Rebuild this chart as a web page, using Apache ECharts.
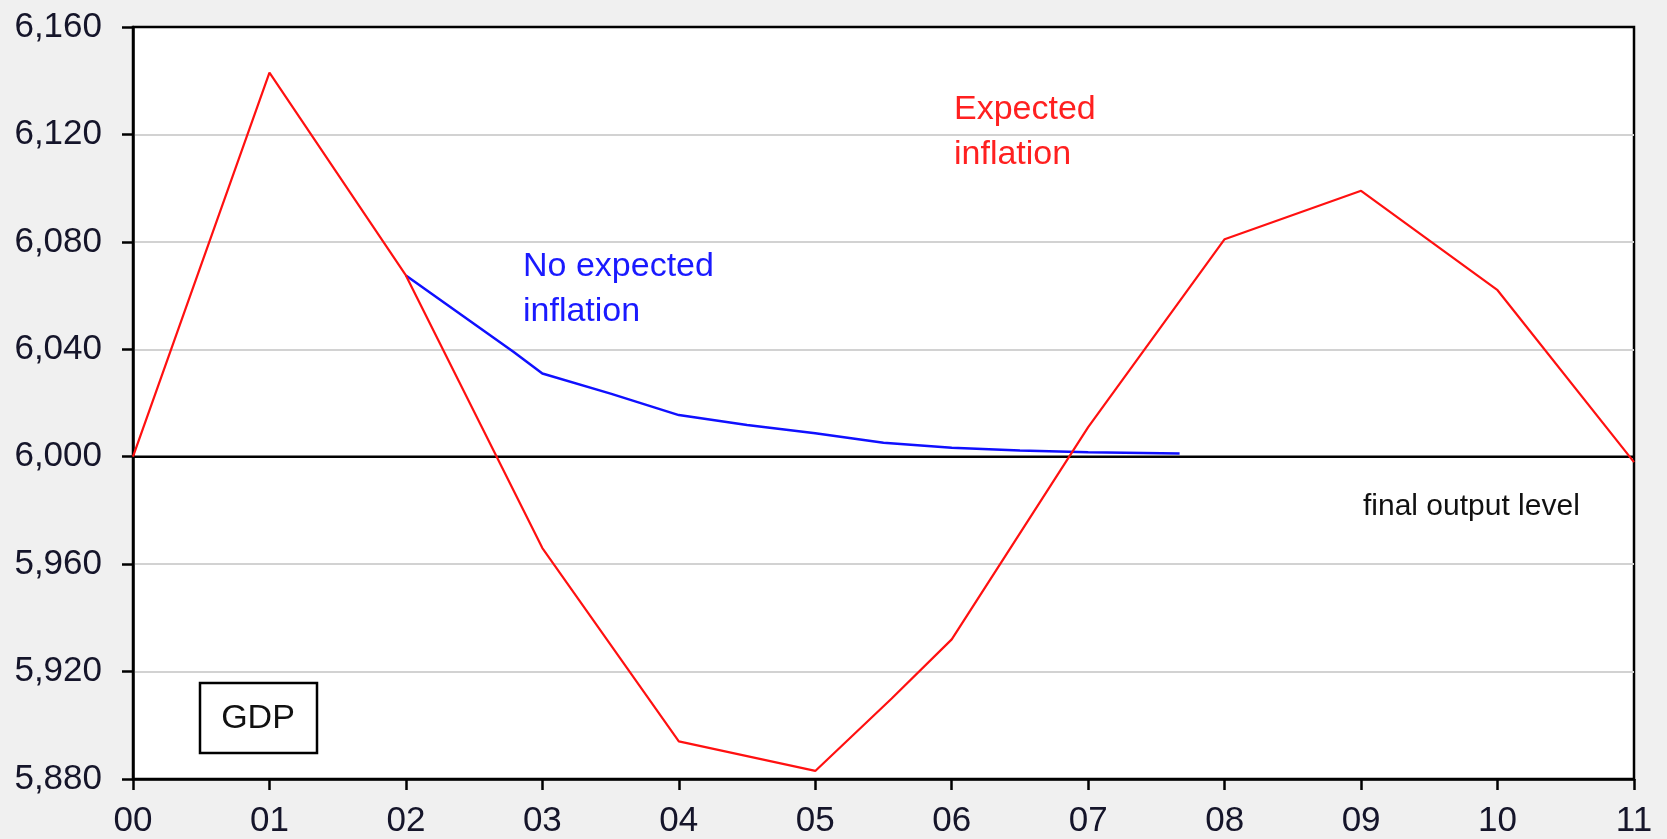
<!DOCTYPE html>
<html>
<head>
<meta charset="utf-8">
<script src="https://cdn.jsdelivr.net/npm/echarts@6/dist/echarts.min.js"></script>
<style>
  html, body { margin: 0; padding: 0; background: #f0f0f0; }
  #gdpChart { width: 1667px; height: 839px; }
</style>
</head>
<body>
<div id="gdpChart"></div>
<script>
// years since 2000 (x) and GDP level (y)
var expectedYears = [0, 1, 2, 3, 4, 5, 5.56, 6, 7, 8, 9, 10, 11];
var expectedGdp = [6000, 6143, 6067.5, 5966, 5894, 5883, 5910, 5932, 6011, 6081, 6099, 6062, 5998];

var noExpYears = [2, 2.79, 3, 3.5, 4, 4.5, 5, 5.5, 6, 6.5, 7, 7.67];
var noExpGdp = [6067.5, 6039, 6031, 6023.5, 6015.5, 6011.8, 6008.7, 6005.2, 6003.3, 6002.3, 6001.7, 6001.2];

var finalLevel = 6000;
var finalYears = [0, 11];

var yMin = 5880, yMax = 6160, yStep = 40;
var xMin = 0, xMax = 11;

var FONT = "'Liberation Sans', Arial, sans-serif";

function pairs(xs, ys) {
  return xs.map(function (x, i) { return [x, ys[i]]; });
}

var chart = echarts.init(document.getElementById("gdpChart"));

var option = {
  backgroundColor: "#f0f0f0",
  animation: false,
  grid: {
    left: 133,
    right: 33,
    top: 27,
    bottom: 60,
    show: true,
    backgroundColor: "#ffffff",
    borderColor: "#000",
    borderWidth: 2.5
  },
  xAxis: {
    type: "value",
    min: xMin,
    max: xMax,
    interval: 1,
    axisLine: { show: true, onZero: false, lineStyle: { color: "#000", width: 2.5 } },
    axisTick: { show: true, inside: false, length: 11, lineStyle: { color: "#000", width: 2.5 } },
    splitLine: { show: false },
    axisLabel: {
      margin: 25,
      fontSize: 35,
      fontFamily: FONT,
      color: "#15152a",
      formatter: function (v) { return String(v).padStart(2, "0"); }
    }
  },
  yAxis: {
    type: "value",
    min: yMin,
    max: yMax,
    interval: yStep,
    axisLine: { show: true, lineStyle: { color: "#000", width: 2.5 } },
    axisTick: { show: true, inside: false, length: 11, lineStyle: { color: "#000", width: 2.5 } },
    splitLine: { show: true, showMinLine: false, showMaxLine: false, lineStyle: { color: "#d2d2d2", width: 2 } },
    axisLabel: {
      margin: 31,
      fontSize: 35,
      fontFamily: FONT,
      color: "#15152a",
      padding: [4, 0, 0, 0],
      formatter: function (v) { return v.toLocaleString("en-US"); }
    }
  },
  series: [
    {
      name: "final output level",
      type: "line",
      data: pairs(finalYears, [finalLevel, finalLevel]),
      showSymbol: false,
      z: 1,
      lineStyle: { color: "#000", width: 2.5 }
    },
    {
      name: "No expected inflation",
      type: "line",
      data: pairs(noExpYears, noExpGdp),
      showSymbol: false,
      z: 3,
      lineStyle: { color: "#1010ff", width: 2.5 }
    },
    {
      name: "Expected inflation",
      type: "line",
      data: pairs(expectedYears, expectedGdp),
      showSymbol: false,
      z: 4,
      lineStyle: { color: "#ff1010", width: 2.2 }
    }
  ],
  graphic: [
    {
      type: "text", x: 954, y: 110, z: 10,
      style: { text: "Expected", fill: "#ff2020", font: "34px " + FONT, verticalAlign: "middle", align: "left" }
    },
    {
      type: "text", x: 954, y: 155, z: 10,
      style: { text: "inflation", fill: "#ff2020", font: "34px " + FONT, verticalAlign: "middle", align: "left" }
    },
    {
      type: "text", x: 523, y: 267, z: 10,
      style: { text: "No expected", fill: "#1a1aff", font: "34px " + FONT, verticalAlign: "middle", align: "left" }
    },
    {
      type: "text", x: 523, y: 312, z: 10,
      style: { text: "inflation", fill: "#1a1aff", font: "34px " + FONT, verticalAlign: "middle", align: "left" }
    },
    {
      type: "text", x: 1363, y: 507, z: 10,
      style: { text: "final output level", fill: "#111", font: "30px " + FONT, verticalAlign: "middle", align: "left" }
    },
    {
      type: "rect", z: 10,
      shape: { x: 200, y: 683, width: 117, height: 70 },
      style: { fill: "#fff", stroke: "#000", lineWidth: 2.5 }
    },
    {
      type: "text", x: 258, y: 719, z: 11,
      style: { text: "GDP", fill: "#111", font: "34px " + FONT, verticalAlign: "middle", align: "center" }
    }
  ]
};

chart.setOption(option);
</script>
</body>
</html>
